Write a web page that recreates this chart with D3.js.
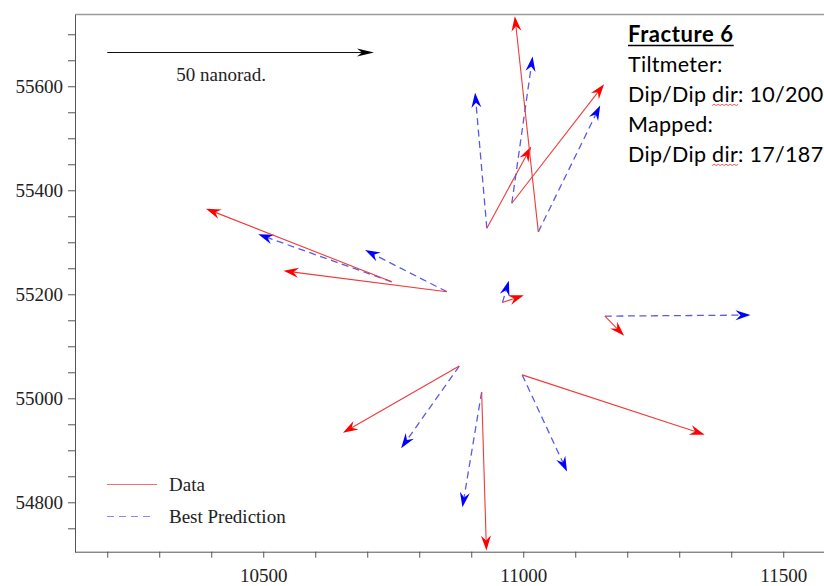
<!DOCTYPE html>
<html>
<head>
<meta charset="utf-8">
<script src="https://cdn.jsdelivr.net/npm/d3@7"></script>
<style>
  body { margin: 0; background: #fff; }
  svg { display: block; }
  .axis text { font-family: "Liberation Serif", "Times New Roman", serif; font-size: 19px; fill: #222; }
  .axis path, .axis line { stroke: #555; }
</style>
</head>
<body>
<svg id="chart"></svg>
<script>
// tiltmeter stations (easting / northing)
const stationX = [10930, 10978, 11029, 10747, 10853, 10960, 11157, 10877, 10920, 10998];
const stationY = [55327, 55375, 55320, 55224, 55205, 55184, 55158, 55062, 55012, 55045];

// measured tilt vectors, nanorad (east / north)
const dataTiltE = [8.3, 17.3, -4.4, -34.8, -30.6, 4.0, 3.6, -21.8, 0.9, 34.2];
const dataTiltN = [15.3, 22.3, 40.4, 13.7, 3.9, 1.4, -3.7, -12.5, -29.7, -11.2];

// best prediction tilt vectors, nanorad
const predTiltE = [-2.2, 3.9, 11.6, -25.0, -15.3, 1.2, 27.3, -10.9, -3.6, 8.4];
const predTiltN = [25.4, 27.5, 23.7, 8.9, 7.8, 4.1, 0.2, -15.4, -21.6, -18.1];

// reference arrow
const refTilt = 50;
const refOrigin = [10200, 55665];
const unitsPerNanorad = 10.26;

const xTickValues = d3.range(10200, 11601, 100);
const xLabelValues = [10500, 11000, 11500];
const yTickValues = d3.range(54750, 55701, 50);
const yLabelValues = [54800, 55000, 55200, 55400, 55600];

const notes = ["Tiltmeter:", "Dip/Dip dir: 10/200", "Mapped:", "Dip/Dip dir: 17/187"];

const width = 824, height = 586;
const margin = {top: 14.5, left: 75, bottom: 34.3};

const svg = d3.select('#chart')
    .attr('width', width)
    .attr('height', height);

const x = d3.scaleLinear()
    .domain([10138, 11620])
    .range([margin.left, margin.left + (11620 - 10138) * 0.52]);

const y = d3.scaleLinear()
    .domain([54705, 55738])
    .range([height - margin.bottom, margin.top]);

// frame top
svg.append('line')
    .attr('x1', margin.left).attr('x2', width)
    .attr('y1', margin.top).attr('y2', margin.top)
    .attr('stroke', '#9a9a9a')
    .attr('stroke-width', 1.5);

const xAxis = d3.axisBottom(x)
    .tickValues(xTickValues)
    .tickSize(6)
    .tickSizeOuter(0)
    .tickPadding(11)
    .tickFormat(d => xLabelValues.includes(d) ? d : '');

const yAxis = d3.axisLeft(y)
    .tickValues(yTickValues)
    .tickSize(7)
    .tickSizeOuter(0)
    .tickPadding(5)
    .tickFormat(d => yLabelValues.includes(d) ? d : '');

svg.append('g')
    .attr('class', 'axis x-axis')
    .attr('transform', `translate(0,${y.range()[0]})`)
    .call(xAxis)
    .call(g => g.select('.domain').attr('d', `M${margin.left},0.5H${width}`));

svg.append('g')
    .attr('class', 'axis y-axis')
    .attr('transform', `translate(${margin.left},0)`)
    .call(yAxis);

// arrow helper: shaft + barbed head
function drawArrow(g, x0, y0, x1, y1, opts) {
    const dx = x1 - x0, dy = y1 - y0;
    const len = Math.hypot(dx, dy);
    const ux = dx / len, uy = dy / len;
    const nx = -uy, ny = ux;
    const L = opts.headLen, W = opts.headHalf, N = opts.notch;
    g.append('line')
        .attr('x1', x0).attr('y1', y0)
        .attr('x2', x1 - ux * N).attr('y2', y1 - uy * N)
        .attr('stroke', opts.lineColor)
        .attr('stroke-width', opts.lineWidth)
        .attr('stroke-dasharray', opts.dash || null);
    const pts = [
        [x1, y1],
        [x1 - ux * L + nx * W, y1 - uy * L + ny * W],
        [x1 - ux * N, y1 - uy * N],
        [x1 - ux * L - nx * W, y1 - uy * L - ny * W]
    ];
    g.append('path')
        .attr('d', 'M' + pts.map(p => p.join(',')).join('L') + 'Z')
        .attr('fill', opts.headColor);
}

const redStyle = {lineColor: '#f03a3a', lineWidth: 1.1, headColor: '#ff0000', headLen: 15, headHalf: 5, notch: 10};
const blueStyle = {lineColor: '#5a5ae8', lineWidth: 1.3, dash: '7,4.5', headColor: '#0000ff', headLen: 15, headHalf: 5, notch: 10};

const vectors = svg.append('g').attr('class', 'vectors');

stationX.forEach((sx, i) => {
    const sy = stationY[i];
    drawArrow(vectors, x(sx), y(sy),
        x(sx + predTiltE[i] * unitsPerNanorad), y(sy + predTiltN[i] * unitsPerNanorad), blueStyle);
    drawArrow(vectors, x(sx), y(sy),
        x(sx + dataTiltE[i] * unitsPerNanorad), y(sy + dataTiltN[i] * unitsPerNanorad), redStyle);
});

// reference arrow
drawArrow(svg, x(refOrigin[0]), y(refOrigin[1]),
    x(refOrigin[0] + refTilt * unitsPerNanorad), y(refOrigin[1]),
    {lineColor: '#111', lineWidth: 1.1, headColor: '#000', headLen: 17, headHalf: 4, notch: 12});

svg.append('text')
    .attr('x', x(refOrigin[0]) + 69)
    .attr('y', y(refOrigin[1]) + 29)
    .style('font-family', '"Liberation Serif", serif')
    .style('font-size', '19px')
    .attr('fill', '#222')
    .text(refTilt + ' nanorad.');

// legend
const legend = svg.append('g').attr('transform', `translate(107,484)`);
legend.append('line')
    .attr('x1', 0).attr('x2', 50).attr('y1', 0.5).attr('y2', 0.5)
    .attr('stroke', '#f07070').attr('stroke-width', 1.2);
legend.append('line')
    .attr('x1', 0).attr('x2', 48).attr('y1', 32.5).attr('y2', 32.5)
    .attr('stroke', '#8c8cf0').attr('stroke-width', 1.2).attr('stroke-dasharray', '7,5');
legend.selectAll('text.leg')
    .data(['Data', 'Best Prediction'])
    .join('text')
    .attr('class', 'leg')
    .attr('x', 62)
    .attr('y', (d, i) => 6.5 + i * 32)
    .style('font-family', '"Liberation Serif", serif')
    .style('font-size', '19px')
    .attr('fill', '#222')
    .text(d => d);

// annotation block
const note = svg.append('g').attr('transform', 'translate(628,0)');
const title = note.append('text')
    .attr('x', 0).attr('y', 42)
    .style('font-family', 'Lato, sans-serif')
    .style('font-size', '22px')
    .style('font-weight', 'bold')
    .style('letter-spacing', '0.6px')
    .attr('fill', '#000')
    .text('Fracture 6');
const tw = title.node().getComputedTextLength();
note.append('line')
    .attr('x1', 0).attr('x2', tw)
    .attr('y1', 45.5).attr('y2', 45.5)
    .attr('stroke', '#000').attr('stroke-width', 1.6);

notes.forEach((t, i) => {
    const txt = note.append('text')
        .attr('x', 0).attr('y', 72 + i * 30)
        .style('font-family', 'Lato, sans-serif')
        .style('font-size', '21.5px')
        .style('letter-spacing', '0.3px')
        .attr('fill', '#000')
        .text(t);
    const k = t.indexOf('dir');
    if (k >= 0) {
        const x0 = txt.node().getSubStringLength(0, k);
        const w = txt.node().getSubStringLength(k, 3);
        const baseY = 72 + i * 30 + 3.5;
        let d = `M${x0},${baseY}`;
        for (let s = 0, up = true; s < w; s += 2, up = !up) {
            d += `L${x0 + s + 2},${baseY + (up ? -1.2 : 0)}`;
        }
        note.append('path')
            .attr('d', d)
            .attr('fill', 'none')
            .attr('stroke', '#e03030')
            .attr('stroke-width', 0.8);
    }
});
</script>
</body>
</html>
